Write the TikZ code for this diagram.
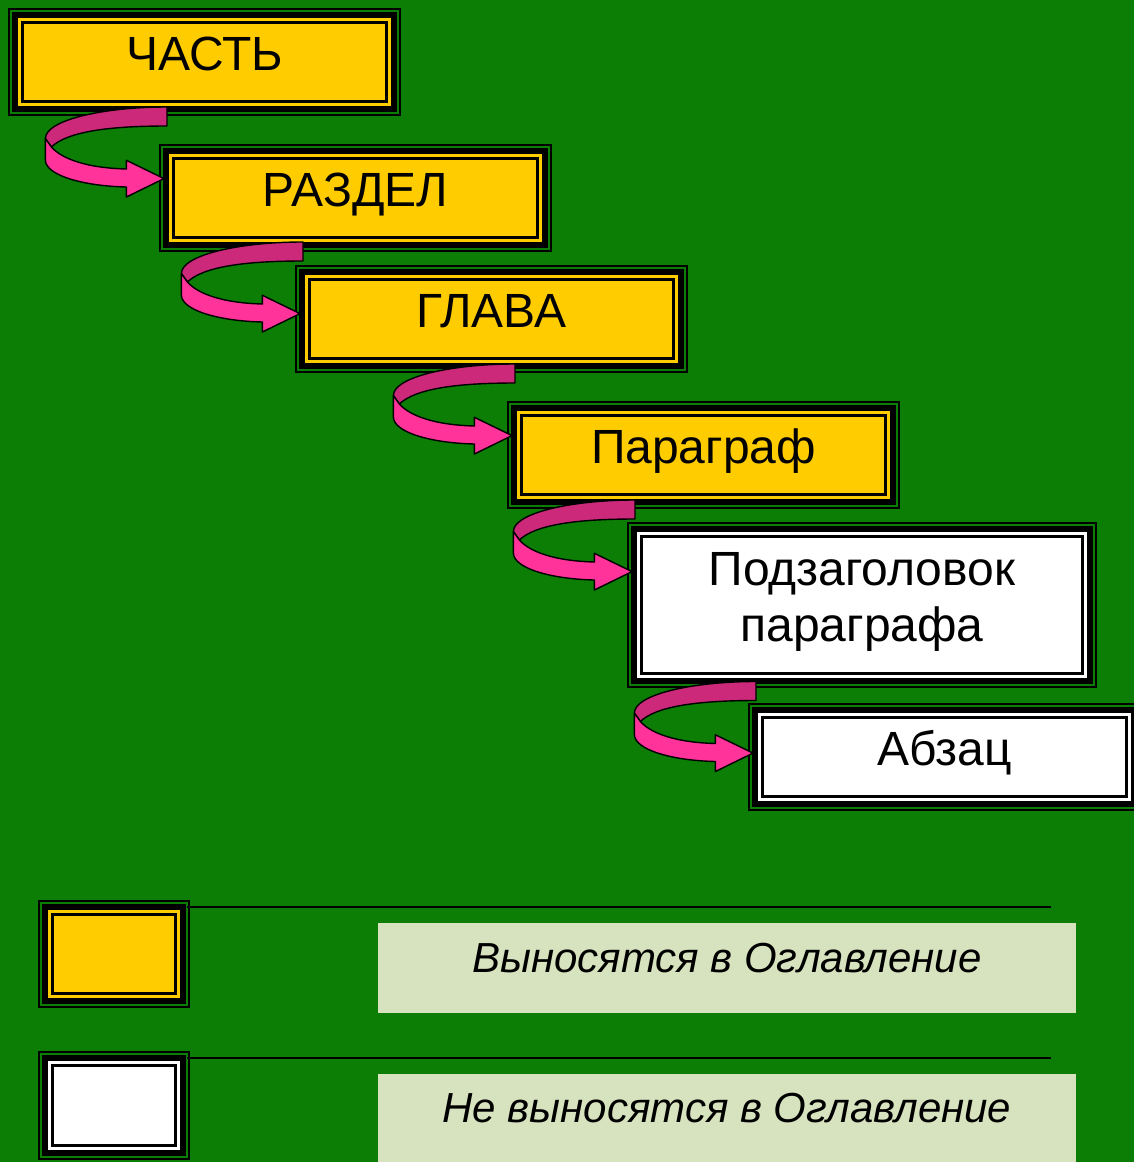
\documentclass[tikz,border=0pt]{standalone}
\usepackage{fontspec}
\setmainfont{Liberation Sans}
\usetikzlibrary{calc}
\definecolor{bggreen}{RGB}{12,125,5}
\definecolor{boxyellow}{RGB}{255,204,0}
\definecolor{legendgreen}{RGB}{215,227,190}
\definecolor{ribbonfront}{RGB}{255,51,153}
\definecolor{ribbonback}{RGB}{204,41,122}
\newcommand\tocframe[2]{%
  \fill[black] (#1.north west) rectangle (#1.south east);
  \fill[bggreen] ($(#1.north west)+(2,2)$) rectangle ($(#1.south east)+(-2,-2)$);
  \fill[black] ($(#1.north west)+(4,4)$) rectangle ($(#1.south east)+(-4,-4)$);
  \fill[#2] ($(#1.north west)+(10,10)$) rectangle ($(#1.south east)+(-10,-10)$);
  \fill[black] ($(#1.north west)+(13,13)$) rectangle ($(#1.south east)+(-13,-13)$);
  \fill[#2] ($(#1.north west)+(16,16)$) rectangle ($(#1.south east)+(-16,-16)$);
}
\tikzset{
  boxshape/.style={rectangle, inner sep=0pt, outer sep=0pt, anchor=north west},
  boxtext/.style={inner sep=0pt, anchor=base, font=\fontsize{48}{56}\selectfont},
  legendtext/.style={inner sep=0pt, anchor=base, font=\fontsize{42}{50}\selectfont\itshape},
  legendbox/.style={rectangle, inner sep=0pt, outer sep=0pt, anchor=north west, fill=legendgreen},
  legendline/.style={draw=black, line width=1.7},
  ribbonline/.style={draw=black, line width=1.4, line join=round},
  ribbon/.pic={
    \filldraw[ribbonline, fill=ribbonback]
      (0,0) .. controls (-64,0) and (-121.6,13) .. (-121.6,31.6)
      -- (-115.6,40) .. controls (-100,25) and (-60,19) .. (0,19) -- cycle;
    \filldraw[ribbonline, fill=ribbonfront]
      (-121.6,31.6) -- (-121.6,53) .. controls (-121.6,68) and (-85,79) .. (-40.6,80)
      -- (-40.6,90) -- (-3,71.6) -- (-40.6,53.3) -- (-40.6,62)
      .. controls (-80,61) and (-105,52) .. (-115.6,40) -- cycle;
  }
}
\begin{document}
\begin{tikzpicture}[x=1pt,y=-1pt]
\useasboundingbox (0,0) rectangle (1134,1162);
\fill[bggreen] (0,0) rectangle (1134,1162);
\begin{scope}
\clip (0,0) rectangle (1134,1162);
% boxes
\node[boxshape, minimum width=393, minimum height=108] (b1) at (8,8) {};
\node[boxshape, minimum width=393, minimum height=108] (b2) at (159,144) {};
\node[boxshape, minimum width=393, minimum height=108] (b3) at (295,265) {};
\node[boxshape, minimum width=393, minimum height=108] (b4) at (507,401) {};
\node[boxshape, minimum width=470, minimum height=166] (b5) at (627,522) {};
\node[boxshape, minimum width=393, minimum height=108] (b6) at (748,703) {};
\tocframe{b1}{boxyellow}
\tocframe{b2}{boxyellow}
\tocframe{b3}{boxyellow}
\tocframe{b4}{boxyellow}
\tocframe{b5}{white}
\tocframe{b6}{white}
\node[boxtext] (t1) at ($(b1.north)+(0,62)$) {ЧАСТЬ};
\node[boxtext] (t2) at ($(b2.north)+(0,62)$) {РАЗДЕЛ};
\node[boxtext] (t3) at ($(b3.north)+(0,62)$) {ГЛАВА};
\node[boxtext] (t4) at ($(b4.north)+(0,62)$) {Параграф};
\node[boxtext] (t5a) at ($(b5.north)+(0,63)$) {Подзаголовок};
\node[boxtext] (t5b) at ($(b5.north)+(0,119)$) {параграфа};
\node[boxtext] (t6) at ($(b6.north)+(0,62)$) {Абзац};
% ribbon arrows
\pic at ($(b2.west |- b1.south)+(8,-9)$) {ribbon};
\pic at ($(b3.west |- b2.south)+(8,-10)$) {ribbon};
\pic at ($(b4.west |- b3.south)+(8,-9)$) {ribbon};
\pic at ($(b5.west |- b4.south)+(8,-9)$) {ribbon};
\pic at ($(b6.west |- b5.south)+(8,-6.5)$) {ribbon};
% legend
\node[boxshape, minimum width=152, minimum height=108] (l1) at (38,900) {};
\node[boxshape, minimum width=152, minimum height=109] (l2) at (38,1051) {};
\tocframe{l1}{boxyellow}
\tocframe{l2}{white}
\coordinate (s1) at ($(l1.north east)+(-3,6.7)$);
\coordinate (e1) at (1051,906.7);
\coordinate (s2) at ($(l2.north east)+(-3,7)$);
\coordinate (e2) at (1051,1058);
\draw[legendline] (s1) -- (e1);
\draw[legendline] (s2) -- (e2);
\node[legendbox, minimum width=698, minimum height=90] (d1) at (378,923) {};
\node[legendbox, minimum width=698, minimum height=90] (d2) at (378,1074) {};
\node[legendtext] (lt1) at ($(d1.north)+(0,49)$) {Выносятся в Оглавление};
\node[legendtext] (lt2) at ($(d2.north)+(0,48)$) {Не выносятся в Оглавление};
\end{scope}
\end{tikzpicture}
\end{document}
